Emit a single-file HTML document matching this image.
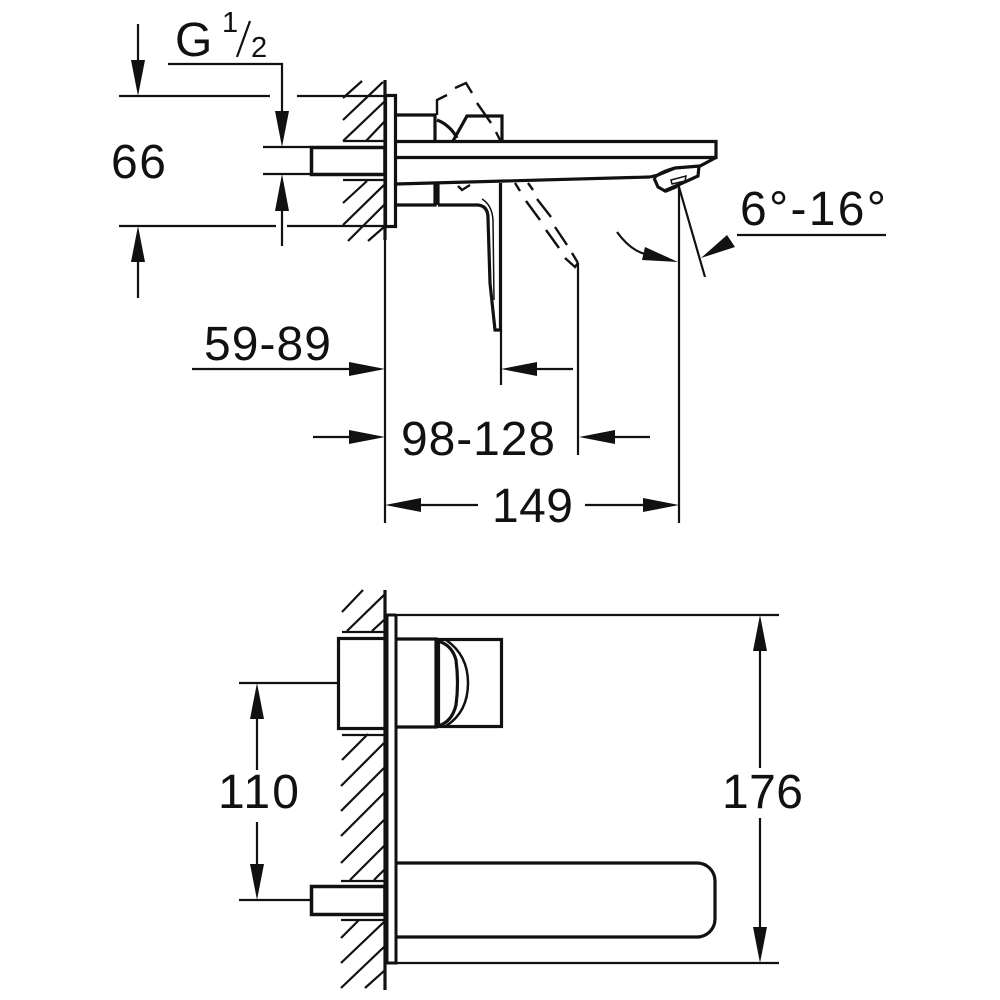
<!DOCTYPE html>
<html><head><meta charset="utf-8"><style>html,body{margin:0;padding:0;background:#fff}svg{display:block}
text{font-family:"Liberation Sans",sans-serif;fill:#111;stroke:none}</style></head><body>
<svg width="1000" height="1000" viewBox="0 0 1000 1000" xmlns="http://www.w3.org/2000/svg">
<rect width="1000" height="1000" fill="#fff"/>
<!-- thin lines -->
<g fill="none" stroke="#111" stroke-width="2.200">
<path d="M138 24V62M119 96H270M297 96H385M168 64H282V112M263 147H311M263 174H311M282 210V246M119 226H276M287 226H385M138 260V298"/>
<path d="M343 98L362 81M343 120L383 82M343 141L384 102M366 141L384 122M343 141H384M343 180H384M343 203L367 181M343 225L384 185M348 241L384 205M368 241L384 227"/>
<path d="M385 240V523M501 330V385M578 263V455M679 185V523M679 187L705 277M617 232Q630 250 645 254"/>
<path d="M192 369H350M537 369H573M313 437H350M615 437H650M420 505H478M585 505H645M737 235H886"/>
<!-- lower view thin -->
<path d="M342 612L363 590M347 631L384 595M372 631L384 620M342 632H384M342 735H384M342 760L368 734M341 786L384 743M341 811L384 768M341 836L384 793M341 863L384 820M350 880L384 846M374 880L384 870M341 881H384M341 920H384M341 938L359 920M341 963L384 922M341 988L384 947M365 988L384 971"/>
<path d="M396 615H779M396 963H779M239 683H338M239 900H311M257 717V770M257 822V866M760 649V768M760 818V929"/>
<path d="M482 199Q492 205 493 220L494 300" stroke-width="1.500"/>
</g>
<!-- dashed -->
<g fill="none" stroke="#111" stroke-width="2.400">
<path d="M437 115L437 100L447 95M455 88L466 83L472 93M477 103L491 123M496 132L500 140"/>
<path d="M458 186L462 190L470 185"/>
<path d="M515 183L520 191M526 201L540 220M546 230L559 248M565 258L575 267L578 263"/>
<path d="M528 183L533 190M537 199L551 217M555 227L567 245M572 253L578 263"/>
</g>
<!-- thick lines -->
<g fill="none" stroke="#111" stroke-width="3.200">
<path d="M385 80V240"/>
<rect x="385.500" y="95.500" width="10" height="131"/>
<path d="M311.500 147.500H385V174.500H311.500Z" stroke-width="3.500"/>
<path d="M396 115H435V141M396 205H435V184M438 184V205"/>
<path d="M437 120Q450 125 457 138M453 141L467 116H502V141"/>
<path d="M396 141.500H716V157.500H396M716 157.500L700 166L675 168L658 175L650 177M396 184L650 177"/>
<path d="M654 178L658 187L665 191L698 176L699 166M654 178Q660 172 675 168"/>
<path d="M671 180L686 176L685 181L672 184Z" stroke-width="1.500"/>
<path d="M665 191L677 186" stroke-width="4"/>
<path d="M438 205H478Q488 206 488 218L490 283L495 330H500.500V183"/>
<!-- lower view -->
<path d="M385 590V990" />
<path d="M396 615H387V963H396V615" stroke-width="3"/>
<rect x="338.500" y="638.500" width="47" height="90"/>
<path d="M396 639H436V727H396"/>
<rect x="438.500" y="639.500" width="63" height="87"/>
<path d="M438 641Q452 645 456 660Q459 683 456 705Q452 722 438 726"/>
<path d="M446 640Q468 655 468 683Q468 712 446 726" stroke-width="2.500"/>
<path d="M311.500 886.500H385V914.500H311.500Z" stroke-width="3.500"/>
<path d="M396 863H697A18 18 0 0 1 715 881V919A18 18 0 0 1 697 937H396"/>
</g>
<!-- arrowheads -->
<g fill="#111" stroke="none">
<path d="M131 60H145L138 96Z"/>
<path d="M275 111H289L282 147Z"/>
<path d="M275 211H289L282 174Z"/>
<path d="M131 262H145L138 226Z"/>
<path d="M349 362V376L385 369Z"/>
<path d="M537 362V376L501 369Z"/>
<path d="M349 430V444L385 437Z"/>
<path d="M615 430V444L579 437Z"/>
<path d="M421 498V512L385 505Z"/>
<path d="M643 498V512L679 505Z"/>
<path d="M645 247L642 260L678 262Z"/>
<path d="M727 235L735 247L701 258Z"/>
<path d="M250 719H264L257 683Z"/>
<path d="M250 864H264L257 900Z"/>
<path d="M753 651H767L760 615Z"/>
<path d="M753 927H767L760 963Z"/>
</g>
<!-- labels -->
<text x="175" y="56" font-size="48">G</text>
<text x="222" y="32" font-size="29">1</text>
<path d="M237 57L250 21" stroke="#111" stroke-width="2.200" fill="none"/>
<text x="251" y="57" font-size="29">2</text>
<text x="111" y="178" font-size="48" textLength="55" lengthAdjust="spacing">66</text>
<text x="740" y="225" font-size="48" textLength="146" lengthAdjust="spacing">6°-16°</text>
<text x="204" y="360" font-size="48" textLength="127" lengthAdjust="spacing">59-89</text>
<text x="401" y="455" font-size="48" textLength="154" lengthAdjust="spacing">98-128</text>
<text x="492" y="522" font-size="48" textLength="81" lengthAdjust="spacing">149</text>
<text x="218" y="808" font-size="48" textLength="81" lengthAdjust="spacing">110</text>
<text x="722" y="808" font-size="48" textLength="81" lengthAdjust="spacing">176</text>
</svg>
</body></html>
